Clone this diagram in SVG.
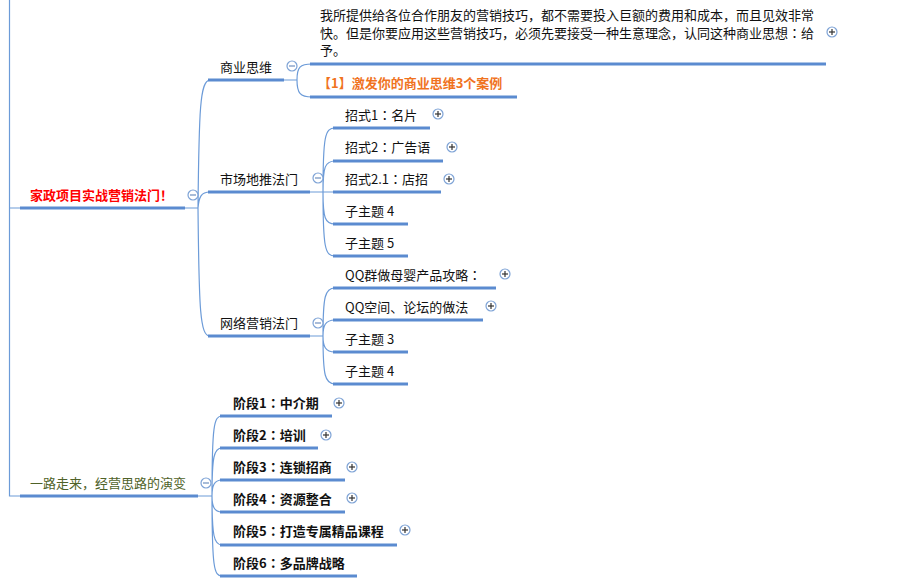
<svg xmlns="http://www.w3.org/2000/svg" width="905" height="584" viewBox="0 0 905 584">
<style>
text{font-family:"Noto Sans CJK SC","Microsoft YaHei",sans-serif;font-size:13px;fill:#111}
.b{font-weight:bold}
.c{font-family:"Noto Sans CJK JP","Noto Sans CJK SC",sans-serif}
.ul{stroke:#5b8bd0;stroke-width:3;fill:none}
.cn{stroke:#6c9bd8;stroke-width:1.2;fill:none}
.ci{fill:#fff;stroke:#7ea3d6;stroke-width:1.2}
.sg{stroke:#6f8fbf;stroke-width:1.2}
.pl{stroke:#333;stroke-width:1.2}
</style>
<defs>
<g id="minus"><circle class="ci" r="5"/><line class="sg" x1="-3" y1="0" x2="3" y2="0"/></g>
<g id="plus"><circle class="ci" r="5"/><line class="pl" x1="-3" y1="0" x2="3" y2="0"/><line class="pl" x1="0" y1="-3" x2="0" y2="3"/></g>
</defs>
<g id="connectors">
<path class="cn" d="M9.5,0 V496 H20 M9.5,208 H20"/>
<path class="cn" d="M185,208 H198 M198,208 C199,110 200,80 210,80 M198,208 C199,197 201,192 210,192 M198,208 C199,310 200,336 210,336"/>
<path class="cn" d="M284,80 H297 M297,80 C297,67 300,64 312,64 M297,80 C297,93 300,97 312,97"/>
<path class="cn" d="M310,192 H335 M323,192 C323,136 325,128 335,128 M323,192 C323,167 325,161 335,161 M323,192 C323,218 325,224 335,224 M323,192 C323,248 325,256 335,256"/>
<path class="cn" d="M310,336 H323 M323,336 C323,296 325,288 335,288 M323,336 C323,326 325,320 335,320 M323,336 C323,346 325,352 335,352 M323,336 C323,376 325,384 335,384"/>
<path class="cn" d="M198,496 H212 M212,496 C212,425 214,416 222,416 M212,496 C212,456 214,448 222,448 M212,496 C212,486 214,480 222,480 M212,496 C212,506 214,512 222,512 M212,496 C212,536 214,545 222,545 M212,496 C212,568 214,576 222,576"/>
</g>
<g id="root1"><line class="ul" x1="20" y1="208" x2="185" y2="208"/><text x="30" y="200" class="b" style="fill:#f00">家政项目实战营销法门！</text><use href="#minus" x="193" y="195"/></g>
<g id="n-shangye"><line class="ul" x1="208" y1="80" x2="284" y2="80"/><text x="220" y="72">商业思维</text><use href="#minus" x="292" y="66"/></g>
<g id="n-para"><line class="ul" x1="310" y1="64" x2="826" y2="64"/>
<text x="320" y="20">我所提供给各位合作朋友的营销技巧，都不需要投入巨额的费用和成本，而且见效非常<tspan x="320" y="37.5">快。但是你要应用这些营销技巧，必须先要接受一种生意理念，认同这种商业思想<tspan class="c">：</tspan>给</tspan><tspan x="320" y="55">予。</tspan></text><use href="#plus" x="832" y="32"/></g>
<g id="n-case"><line class="ul" x1="310" y1="97" x2="517" y2="97"/><text x="318" y="88" class="b" style="fill:#f0731e">【1】激发你的商业思维3个案例</text></g>
<g id="n-shichang"><line class="ul" x1="208" y1="192" x2="310" y2="192"/><text x="220" y="184">市场地推法门</text><use href="#minus" x="318" y="178"/></g>
<g id="n-zs1"><line class="ul" x1="333" y1="128" x2="430" y2="128"/><text x="345" y="120">招式1<tspan class="c">：</tspan>名片</text><use href="#plus" x="438" y="114"/></g>
<g id="n-zs2"><line class="ul" x1="333" y1="161" x2="443" y2="161"/><text x="345" y="152">招式2<tspan class="c">：</tspan>广告语</text><use href="#plus" x="452" y="147"/></g>
<g id="n-zs21"><line class="ul" x1="333" y1="192" x2="441" y2="192"/><text x="345" y="184">招式2.1<tspan class="c">：</tspan>店招</text><use href="#plus" x="449" y="179"/></g>
<g id="n-sub4a"><line class="ul" x1="333" y1="224" x2="408" y2="224"/><text x="345" y="216">子主题 4</text></g>
<g id="n-sub5"><line class="ul" x1="333" y1="256" x2="408" y2="256"/><text x="345" y="248">子主题 5</text></g>
<g id="n-wangluo"><line class="ul" x1="208" y1="336" x2="310" y2="336"/><text x="220" y="328">网络营销法门</text><use href="#minus" x="318" y="323"/></g>
<g id="n-qq1"><line class="ul" x1="333" y1="288" x2="496" y2="288"/><text x="345" y="280">QQ群做母婴产品攻略<tspan class="c">：</tspan></text><use href="#plus" x="505" y="274"/></g>
<g id="n-qq2"><line class="ul" x1="333" y1="320" x2="483" y2="320"/><text x="345" y="312">QQ空间、论坛的做法</text><use href="#plus" x="491" y="306"/></g>
<g id="n-sub3"><line class="ul" x1="333" y1="352" x2="408" y2="352"/><text x="345" y="344">子主题 3</text></g>
<g id="n-sub4b"><line class="ul" x1="333" y1="384" x2="408" y2="384"/><text x="345" y="376">子主题 4</text></g>
<g id="root2"><line class="ul" x1="20" y1="496" x2="198" y2="496"/><text x="30" y="488" style="fill:#4f6228">一路走来，经营思路的演变</text><use href="#minus" x="206" y="483"/></g>
<g id="n-jd1"><line class="ul" x1="220" y1="416" x2="332" y2="416"/><text x="233" y="408" class="b">阶段1<tspan class="c">：</tspan>中介期</text><use href="#plus" x="339" y="403"/></g>
<g id="n-jd2"><line class="ul" x1="220" y1="448" x2="318" y2="448"/><text x="233" y="440" class="b">阶段2<tspan class="c">：</tspan>培训</text><use href="#plus" x="326" y="435"/></g>
<g id="n-jd3"><line class="ul" x1="220" y1="480" x2="345" y2="480"/><text x="233" y="472" class="b">阶段3<tspan class="c">：</tspan>连锁招商</text><use href="#plus" x="352" y="467"/></g>
<g id="n-jd4"><line class="ul" x1="220" y1="512" x2="345" y2="512"/><text x="233" y="504" class="b">阶段4<tspan class="c">：</tspan>资源整合</text><use href="#plus" x="352" y="498"/></g>
<g id="n-jd5"><line class="ul" x1="220" y1="545" x2="397" y2="545"/><text x="233" y="536" class="b">阶段5<tspan class="c">：</tspan>打造专属精品课程</text><use href="#plus" x="405" y="530"/></g>
<g id="n-jd6"><line class="ul" x1="220" y1="576" x2="357" y2="576"/><text x="233" y="568" class="b">阶段6<tspan class="c">：</tspan>多品牌战略</text></g>
</svg>
